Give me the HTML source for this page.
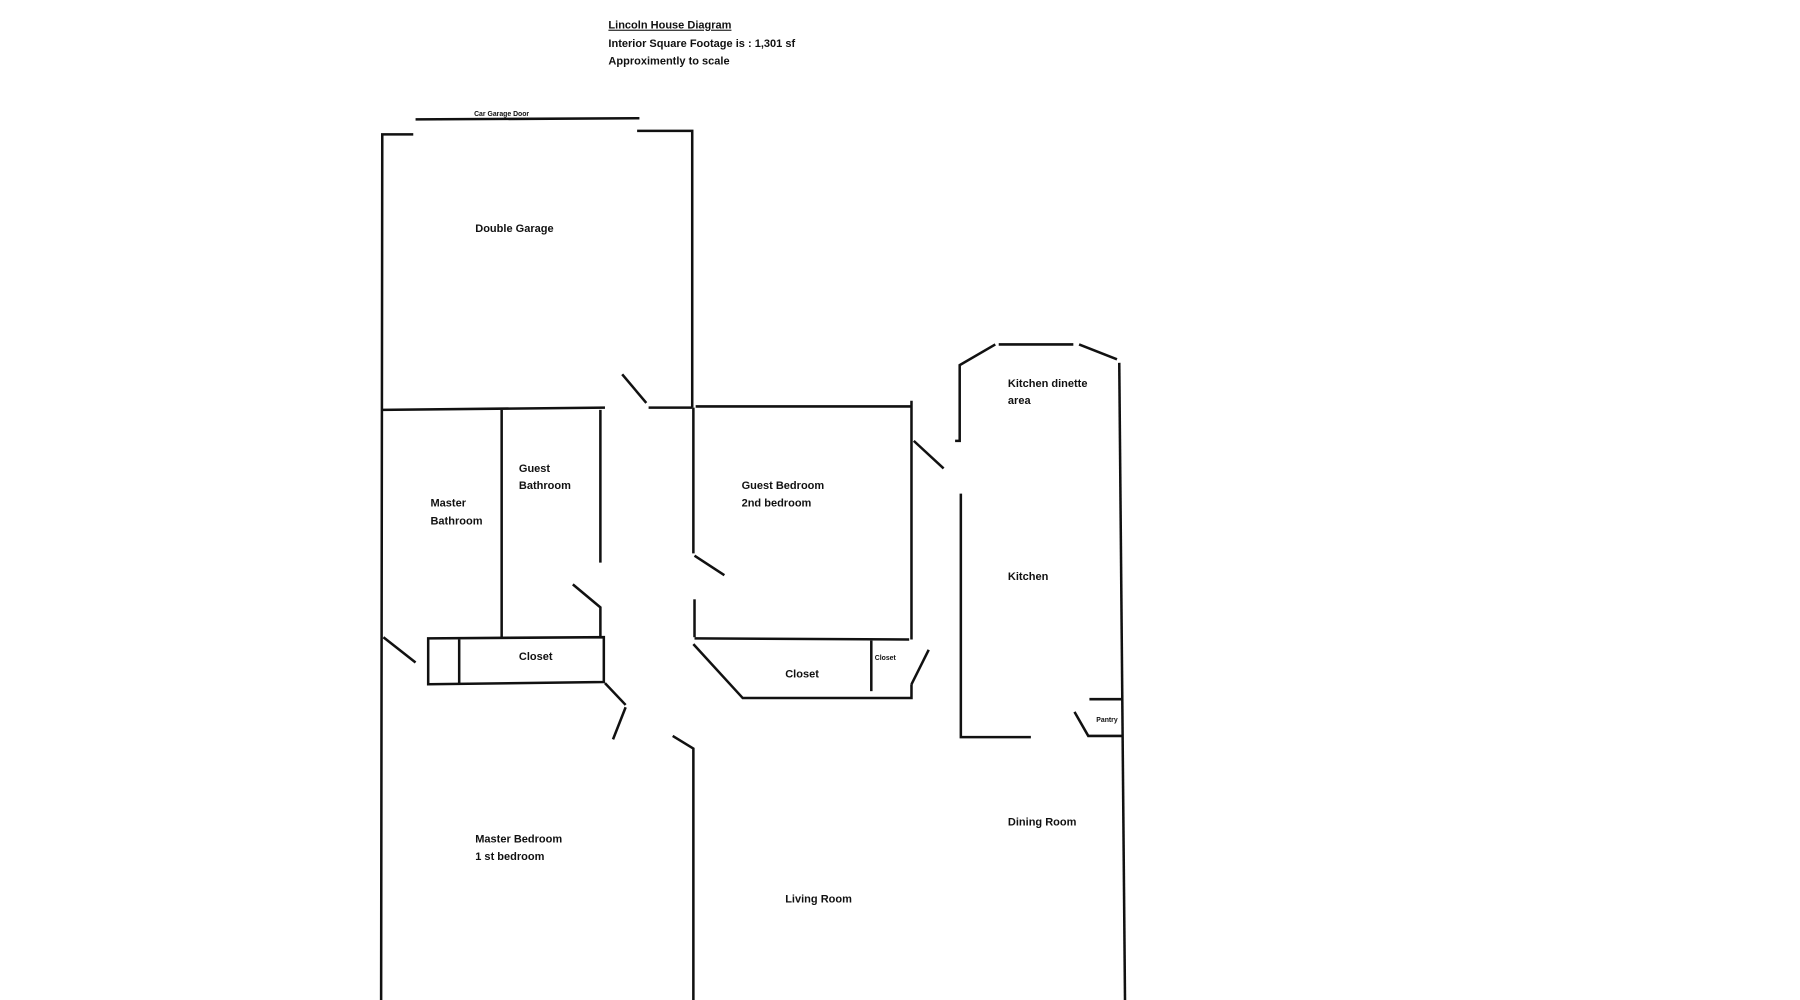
<!DOCTYPE html>
<html><head><meta charset="utf-8"><style>
html,body{margin:0;padding:0;background:#fff;width:1800px;height:1000px;overflow:hidden}
svg{display:block}
text{font-family:"Liberation Sans",sans-serif;font-weight:bold;fill:#111}
</style></head><body>
<svg width="1800" height="1000" viewBox="0 0 1568 871" preserveAspectRatio="none" xmlns="http://www.w3.org/2000/svg">
<g stroke="#111" stroke-width="2.2" fill="none" stroke-linecap="butt">
<line x1="362" y1="104" x2="557" y2="103"/>
<polyline points="360,117 333,117 332,871"/>
<polyline points="555,114 603,114 603,355"/>
<line x1="333" y1="357" x2="527" y2="355"/>
<line x1="542" y1="326" x2="563" y2="351"/>
<line x1="565" y1="355" x2="603" y2="355"/>
<line x1="606" y1="354" x2="794" y2="354"/>
<line x1="794" y1="349" x2="794" y2="557"/>
<line x1="796" y1="384" x2="822" y2="408"/>
<line x1="604" y1="355" x2="604" y2="482"/>
<line x1="605" y1="484" x2="631" y2="501"/>
<line x1="605" y1="522" x2="605" y2="555"/>
<line x1="605" y1="556" x2="792" y2="557"/>
<polyline points="604,561 647,608 794,608 794,596"/>
<line x1="759" y1="558" x2="759" y2="602"/>
<line x1="794" y1="596" x2="809" y2="566"/>
<line x1="437" y1="357" x2="437" y2="555"/>
<line x1="523" y1="357" x2="523" y2="490"/>
<polyline points="499,509 523,529 523,555"/>
<polygon points="373,556 526,555 526,594 373,596"/>
<line x1="400" y1="557" x2="400" y2="596"/>
<line x1="334" y1="555" x2="362" y2="577"/>
<line x1="527" y1="595" x2="545" y2="614"/>
<line x1="545" y1="616" x2="534" y2="644"/>
<polyline points="586,641 604,652 604,871"/>
<polyline points="832,384 836,384 836,318 867,300"/>
<line x1="870" y1="300" x2="935" y2="300"/>
<line x1="940" y1="300" x2="973" y2="313"/>
<line x1="975" y1="316" x2="980" y2="871"/>
<polyline points="837,430 837,642 898,642"/>
<line x1="949" y1="609" x2="977" y2="609"/>
<polyline points="936,620 948,641 977,641"/>
</g>
<g font-size="9.6">
<text x="530" y="25" text-decoration="underline">Lincoln House Diagram</text>
<text x="530" y="41">Interior Square Footage is :  1,301 sf</text>
<text x="530" y="56">Approximently to scale</text>
<text x="413" y="101" font-size="6">Car Garage Door</text>
<text x="414" y="202">Double Garage</text>
<text x="452" y="411">Guest</text>
<text x="452" y="426">Bathroom</text>
<text x="375" y="441">Master</text>
<text x="375" y="457">Bathroom</text>
<text x="646" y="426">Guest Bedroom</text>
<text x="646" y="441">2nd bedroom</text>
<text x="878" y="337">Kitchen dinette</text>
<text x="878" y="352">area</text>
<text x="878" y="505">Kitchen</text>
<text x="452" y="575">Closet</text>
<text x="684" y="590">Closet</text>
<text x="762" y="575" font-size="6">Closet</text>
<text x="955" y="629" font-size="6">Pantry</text>
<text x="414" y="734">Master Bedroom</text>
<text x="414" y="749">1 st bedroom</text>
<text x="684" y="786">Living Room</text>
<text x="878" y="719">Dining Room</text>
</g>
</svg>
</body></html>
